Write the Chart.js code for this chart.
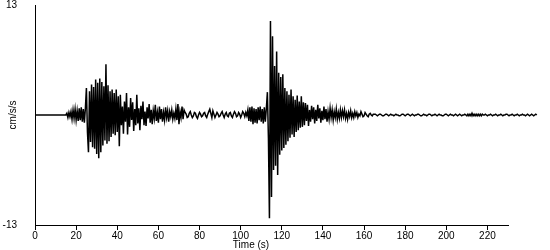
<!DOCTYPE html>
<html>
<head>
<meta charset="utf-8">
<script src="https://cdn.jsdelivr.net/npm/chart.js@4"></script>
<style>
  html, body { margin: 0; padding: 0; background: #fff; }
  #wrap { width: 550px; height: 250px; }
</style>
</head>
<body>
<div id="wrap"><canvas id="c" width="550" height="250"></canvas></div>
<script>
const sampleInterval = 0.5; // seconds between samples
const xTickValues = [0, 20, 40, 60, 80, 100, 120, 140, 160, 180, 200, 220];
const xMin = 0, xMax = 230;
const yTickValues = [-13, 13];
const yMin = -13, yMax = 13;
const xTitle = 'Time (s)';
const yTitle = 'cm/s/s';

// t = 0 .. 15 s : before the event
const preEvent = [0,0,0,0,0,0,0,0,0,0,0,0,0,0,0,0,0,0,0,0,0,0,0,0,0,0,0,0,0,0,0];
// t = 15.5 .. 24.5 s : first arrivals
const firstArrivals = [0.2,-0.3,0.3,-0.2,0.4,-0.5,0.6,-0.4,0.7,-0.6,0.5,-0.7,0.8,-0.6,0.9,-0.8,0.7,-0.9,0.8];
// t = 25 .. 40.5 s : first strong burst
const firstBurst = [3.2,-2.0,-4.4,2.8,-3.2,3.6,-3.8,3.3,-4.0,4.2,
  -4.6,3.8,-5.1,4.3,-4.4,3.9,-3.6,3.4,-3.0,6.0,
  -3.4,3.5,-3.1,2.8,-2.6,3.0,-2.2,2.6,-2.4,3.0,
  -2.0,2.2];
// t = 41 .. 72.5 s : coda of first burst
const firstCoda = [-3.7,2.4,-1.2,1.0,-2.2,1.6,-0.8,2.6,-2.3,0.9,
  -1.4,2.0,-0.6,1.5,-1.9,0.7,-1.2,2.4,-1.0,0.8,
  -1.8,1.1,-0.5,1.6,-1.2,0.4,-1.3,0.9,-0.4,1.3,
  -0.9,0.6,-1.1,0.5,-0.4,1.2,-0.7,0.3,-0.9,1.0,
  -0.5,0.7,-0.8,0.3,-0.6,0.9,-0.3,0.5,-0.8,0.4,
  -0.2,0.6,-0.5,0.2,-0.4,0.7,-0.6,1.3,-1.1,0.4,
  -0.3,1.0,-0.5,0.6];
// t = 73 .. 103 s : quiet interval
const quietGap = [0.3,0.1,-0.3,-0.2,0.2,0.4,0.0,-0.3,-0.1,0.3,
  0.2,-0.2,-0.4,0.0,0.3,0.1,-0.2,-0.1,0.2,0.3,
  -0.1,-0.3,0.1,0.4,0.7,0.2,-0.3,0.5,0.1,-0.3,
  0.0,0.3,0.1,-0.2,-0.1,0.2,0.4,0.0,-0.3,0.1,
  0.3,-0.1,-0.2,0.2,0.3,-0.1,-0.3,0.1,0.4,0.2,
  -0.2,-0.1,0.3,0.1,-0.3,0.0,0.4,0.2,-0.2,0.3,
  -0.1];
// t = 103.5 .. 112.5 s : second arrivals
const secondArrivals = [0.6,-0.7,0.9,-0.8,1.0,-1.1,0.8,-0.9,0.7,-1.0,0.9,-0.6,1.0,-0.8,0.7,-1.0,0.9,-0.8,0.8];
// t = 113 .. 130.5 s : second (main) burst
const secondBurst = [2.7,-2.7,-12.2,11.1,-9.7,9.3,-6.5,5.8,-6.0,7.5,
  -7.1,5.0,-4.7,4.5,-4.2,4.8,-3.9,3.2,-3.5,2.8,
  -3.1,2.4,-2.7,3.0,-2.3,2.2,-2.6,1.8,-2.0,2.3,
  -1.8,1.6,-1.5,2.2,-1.4,1.5];
// t = 131 .. 165 s : coda of second burst
const secondCoda = [-1.2,1.4,-0.7,1.2,-1.3,0.6,-0.8,1.1,-0.5,0.9,
  -1.0,0.6,-0.7,1.2,-0.4,0.8,-0.9,0.5,-0.6,1.0,
  -0.5,0.7,-0.8,0.4,-0.5,0.8,-0.3,0.6,-0.6,0.4,
  -0.3,0.7,-0.5,0.3,-0.4,0.6,-0.3,0.5,-0.2,0.6,
  -0.4,0.2,-0.5,0.3,-0.2,0.5,-0.3,0.2,-0.3,0.4,
  -0.1,0.3,-0.3,0.1,-0.1,0.4,0.1,-0.2,-0.1,0.3,
  0.1,-0.1,-0.2,0.1,0.2,0.0,-0.1,0.1,0.1];
// t = 165.5 .. 244 s : tail (the record runs past the end of the axis)
const tail = [0.1,0.0,-0.1,0.0,0.1,0.1,0.0,-0.1,-0.1,0.0,
  0.1,0.1,0.0,-0.1,0.0,0.1,0.0,0.0,-0.1,0.0,
  0.1,0.0,0.0,-0.1,-0.1,0.0,0.1,0.1,0.0,-0.1,
  0.0,0.1,0.1,0.0,-0.1,0.0,0.1,0.0,-0.1,0.0,
  0.0,0.1,0.1,0.0,-0.1,-0.1,0.0,0.1,0.0,0.0,
  -0.1,0.0,0.1,0.1,0.0,-0.1,0.0,0.0,0.1,0.0,
  -0.1,0.0,0.1,0.0,0.0,-0.1,-0.1,0.0,0.1,0.1,
  0.0,-0.1,0.0,0.1,0.0,0.0,-0.1,0.0,0.1,0.0,
  -0.1,0.0,0.1,0.0,-0.1,0.0,0.0,0.1,0.0,-0.1,
  0.1,-0.1,0.1,-0.1,0.2,-0.1,0.1,-0.1,0.1,-0.1,
  0.1,-0.1,0.1,-0.1,0.1,0.0,0.0,0.1,0.0,-0.1,
  0.0,0.0,0.1,0.0,-0.1,0.0,0.0,0.1,0.0,-0.1,
  0.0,0.0,0.1,0.0,-0.1,0.0,0.0,0.1,0.1,0.0,
  -0.1,0.0,0.0,0.1,0.0,-0.1,0.0,0.0,0.1,0.0,
  -0.1,0.0,0.0,0.1,0.0,0.0,-0.1,0.0,0.1,0.0,
  -0.1,0.0,0.1,0.0,-0.1,0.0,0.1,0.0];

const accel = [].concat(preEvent, firstArrivals, firstBurst, firstCoda, quietGap,
                        secondArrivals, secondBurst, secondCoda, tail);
const points = accel.map((v, i) => ({ x: i * sampleInterval, y: v }));

const FONT = "'Liberation Sans', Arial, sans-serif";

// Draws the x-axis title a little left of the axis centre, as in the reference.
const xTitlePlugin = {
  id: 'xTitlePlugin',
  afterDraw(chart) {
    const ctx = chart.ctx;
    ctx.save();
    ctx.fillStyle = '#000';
    ctx.font = '10px ' + FONT;
    ctx.textAlign = 'center';
    ctx.textBaseline = 'middle';
    ctx.fillText(xTitle, 251, 245);
    ctx.restore();
  }
};

new Chart(document.getElementById('c'), {
  type: 'line',
  data: {
    datasets: [{
      data: points,
      borderColor: '#000',
      borderWidth: 1.5,
      pointRadius: 0,
      tension: 0,
      fill: false,
      clip: false
    }]
  },
  plugins: [xTitlePlugin],
  options: {
    responsive: false,
    animation: false,
    devicePixelRatio: 1,
    parsing: false,
    layout: { padding: { left: 0, top: 5, right: 42, bottom: 0 } },
    plugins: { legend: { display: false }, tooltip: { enabled: false } },
    scales: {
      x: {
        type: 'linear',
        bounds: 'data',
        min: xMin,
        // max is applied after data limits so the whole record is still drawn past the axis end
        afterDataLimits(scale) { scale.max = xMax; },
        afterBuildTicks(scale) { scale.ticks = xTickValues.map(v => ({ value: v })); },
        afterFit(scale) { scale.height = 25; scale.paddingLeft = 0; scale.paddingRight = 0; },
        ticks: {
          autoSkip: false,
          maxRotation: 0,
          padding: 0,
          color: '#000',
          font: { family: FONT, size: 10 }
        },
        grid: { display: true, drawOnChartArea: false, drawTicks: true, tickLength: 5, color: '#000' },
        border: { display: true, color: '#000', width: 1 },
        title: { display: false }
      },
      y: {
        type: 'linear',
        min: yMin, max: yMax,
        afterFit(scale) { scale.width = 35; scale.paddingTop = 0; scale.paddingBottom = 0; },
        afterBuildTicks(scale) { scale.ticks = yTickValues.map(v => ({ value: v })); },
        ticks: {
          padding: 18,
          color: '#000',
          font: { family: FONT, size: 10 }
        },
        grid: { display: false, drawTicks: false },
        border: { display: true, color: '#000', width: 1 },
        title: { display: true, text: yTitle, color: '#000', font: { family: FONT, size: 10 }, padding: { top: 7, bottom: 0 } }
      }
    }
  }
});
</script>
</body>
</html>
